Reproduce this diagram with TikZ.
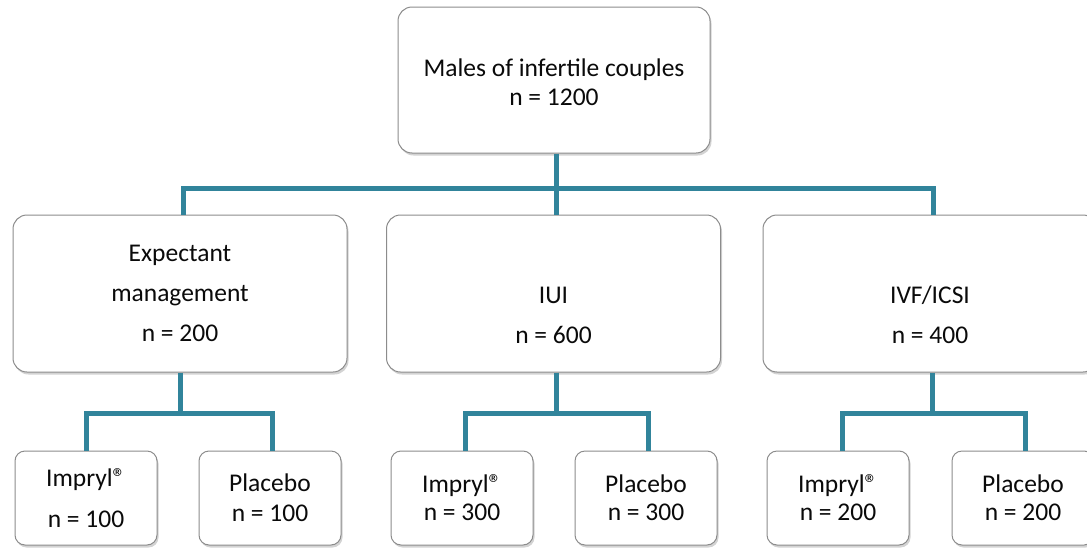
\documentclass[tikz,border=0pt]{standalone}
\usepackage{fontspec}
\setmainfont{Carlito}
\usetikzlibrary{shadows}
\definecolor{conncol}{RGB}{49,132,155}
\definecolor{boxline}{RGB}{140,140,140}
\definecolor{txt}{RGB}{10,10,10}
\newcommand{\regmark}{\raisebox{0pt}{\fontsize{26}{26}\selectfont ®}}
\tikzset{
  box/.style={draw=boxline, line width=1pt, fill=white, rounded corners=14pt,
    align=center, text=txt, font=\fontsize{25.5}{28}\selectfont, inner sep=0pt,
    drop shadow={opacity=0.35, shadow xshift=1.5pt, shadow yshift=-2.5pt, fill=gray}},
  smallbox/.style={box, rounded corners=10pt, minimum width=142pt, minimum height=94pt},
  midbox/.style={box, minimum width=334pt, minimum height=157pt},
  conn/.style={draw=conncol, line width=5pt}
}
\begin{document}
\begin{tikzpicture}[x=1pt,y=-1pt]
\useasboundingbox (0,0) rectangle (1087,549);
% top
\node[box, minimum width=312pt, minimum height=146pt] (top) at (554,80) {\raisebox{4pt}[0pt][0pt]{\parbox[t]{300pt}{\centering Males of infertile couples\\[1pt] n = 1200}}};
% middle
\node[midbox] (mL) at (180,293.5) {Expectant\\[12pt]management\\[12pt]n = 200};
\node[midbox] (mM) at (553.5,293.5) {\strut\\[12pt]IUI\\[12pt]n = 600};
\node[midbox] (mR) at (930,293.5) {\strut\\[12pt]IVF/ICSI\\[12pt]n = 400};
% bottom
\node[smallbox] (bL1) at (86,498) {Impryl\regmark\\[13pt]n = 100};
\node[smallbox] (bL2) at (270,498) {Placebo\\[2pt]n = 100};
\node[smallbox] (bM1) at (462,498) {Impryl\regmark\\[0pt]n = 300};
\node[smallbox] (bM2) at (646,498) {Placebo\\[0pt]n = 300};
\node[smallbox] (bR1) at (838,498) {Impryl\regmark\\[0pt]n = 200};
\node[smallbox] (bR2) at (1023,498) {Placebo\\[0pt]n = 200};
% junctions
\coordinate (j0) at (556,188);
\coordinate (jL) at (180,413);
\coordinate (jM) at (556,413);
\coordinate (jR) at (932,413);
% connectors
\draw[conn] (top.south -| j0) -- (j0);
\draw[conn] (mL.north -| 183,0) |- (j0) -| (mR.north -| 933,0);
\draw[conn] (mM.north -| j0) -- (j0);
\draw[conn] (mL.south) -- (jL);
\draw[conn] (bL1.north) |- (jL) -| (bL2.north -| 272,0);
\draw[conn] (mM.south -| jM) -- (jM);
\draw[conn] (bM1.north -| 465,0) |- (jM) -| (bM2.north -| 648,0);
\draw[conn] (mR.south -| jR) -- (jR);
\draw[conn] (bR1.north -| 842,0) |- (jR) -| (bR2.north -| 1025,0);
\end{tikzpicture}
\end{document}
